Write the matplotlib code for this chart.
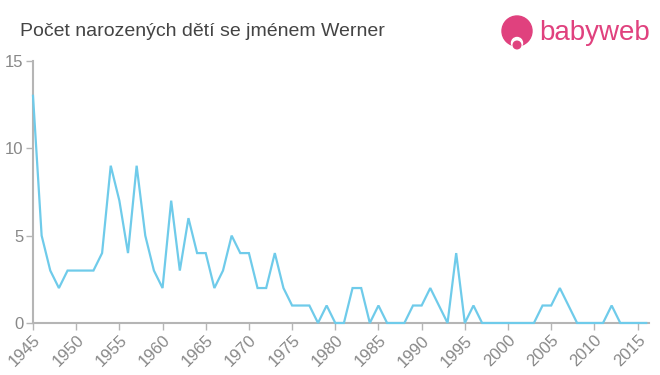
import numpy as np
import matplotlib.pyplot as plt
from matplotlib.patches import Circle

years = list(range(1945, 2017))
counts = [13, 5, 3, 2, 3, 3, 3, 3, 4, 9,
          7, 4, 9, 5, 3, 2, 7, 3, 6, 4,
          4, 2, 3, 5, 4, 4, 2, 2, 4, 2,
          1, 1, 1, 0, 1, 0, 0, 2, 2, 0,
          1, 0, 0, 0, 1, 1, 2, 1, 0, 4,
          0, 1, 0, 0, 0, 0, 0, 0, 0, 1,
          1, 2, 1, 0, 0, 0, 0, 1, 0, 0,
          0, 0]
xticks = list(range(1945, 2020, 5))
yticks = [0, 5, 10, 15]

title = "Počet narozených dětí se jménem Werner"
grey = "#b5b5b5"
label_col = "#888888"

plt.rcParams['font.family'] = ['Liberation Sans', 'DejaVu Sans']

fig = plt.figure(figsize=(6.6, 3.75), dpi=100)
ax = fig.add_axes([0.05, 0.1387, 0.933, 0.699])

ax.plot(years, counts, color="#6fcbea", lw=1.6, solid_joinstyle='miter', zorder=3, clip_on=False)

ax.set_xlim(1945, 2016.3)
ax.set_ylim(0, 15)
ax.set_xticks(xticks)
ax.set_yticks(yticks)
ax.set_xticklabels([str(x) for x in xticks], rotation=45, ha='right', rotation_mode='anchor')
ax.tick_params(axis='both', colors=grey, labelcolor=label_col, labelsize=12, length=5, width=1)
ax.tick_params(axis='x', pad=2)
ax.tick_params(axis='y', pad=2)

for side in ['top', 'right']:
    ax.spines[side].set_visible(False)
for side in ['left', 'bottom']:
    ax.spines[side].set_color(grey)
    ax.spines[side].set_linewidth(1.5)

fig.text(20 / 660, 1 - 31 / 375, title, fontsize=14, color="#444444", va='center', ha='left')

# logo
pink = "#e0417e"
logo = fig.add_axes([0, 0, 1, 1], facecolor='none')
logo.set_xlim(0, 660)
logo.set_ylim(375, 0)
logo.axis('off')
logo.add_patch(Circle((517, 31), 15, color=pink))
logo.add_patch(Circle((517, 43), 5.5, color='white'))
logo.add_patch(Circle((517, 45), 3.8, color=pink))
logo.text(539, 33, "babyweb", fontsize=20, color=pink, va='center', ha='left')

fig.savefig("out.png", dpi=100, facecolor='white')
